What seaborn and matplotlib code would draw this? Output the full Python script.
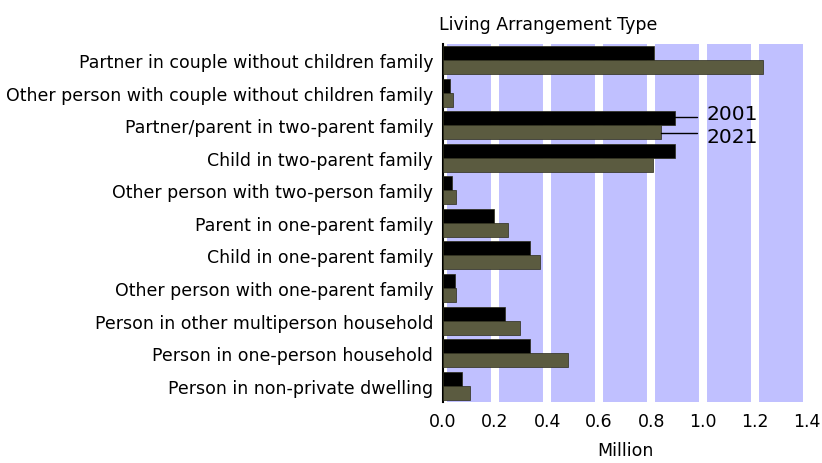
import matplotlib
matplotlib.use("Agg")
import matplotlib.pyplot as plt
import seaborn as sns
import pandas as pd

categories = [
    "Partner in couple without children family",
    "Other person with couple without children family",
    "Partner/parent in two-parent family",
    "Child in two-parent family",
    "Other person with two-person family",
    "Parent in one-parent family",
    "Child in one-parent family",
    "Other person with one-parent family",
    "Person in other multiperson household",
    "Person in one-person household",
    "Person in non-private dwelling",
]
values_2001 = [0.81, 0.027, 0.89, 0.89, 0.035, 0.196, 0.336, 0.044, 0.237, 0.336, 0.074]
values_2021 = [1.23, 0.040, 0.837, 0.806, 0.050, 0.250, 0.374, 0.051, 0.297, 0.482, 0.105]
years = ["2001", "2021"]
x_ticks = [0.0, 0.2, 0.4, 0.6, 0.8, 1.0, 1.2, 1.4]

df = pd.DataFrame({
    "Living Arrangement Type": categories * 2,
    "Million": values_2001 + values_2021,
    "Year": [years[0]] * len(categories) + [years[1]] * len(categories),
})

sns.set_style("white")
plt.rcParams["font.family"] = ["DejaVu Sans"]
plt.rcParams["text.color"] = "black"
plt.rcParams["axes.labelcolor"] = "black"
plt.rcParams["xtick.color"] = "black"
plt.rcParams["ytick.color"] = "black"

fig = plt.figure(figsize=(8.22, 4.64), dpi=100)
ax = fig.add_axes([0.539, 0.1315, 0.443, 0.772])
ax.set_facecolor("#c0c0ff")

sns.barplot(
    data=df, y="Living Arrangement Type", x="Million", hue="Year",
    palette={"2001": "#000000", "2021": "#5f5f3c"},
    width=0.86, orient="h", ax=ax, legend=False,
    edgecolor="#2a2a18", linewidth=0.5, zorder=3,
)

ax.set_xlim(0, 1.4)
ax.set_ylim(len(categories) - 0.5, -0.5)
ax.set_xticks(x_ticks)
ax.set_xticklabels([f"{t:.1f}" for t in x_ticks], fontsize=12.5)
ax.xaxis.grid(True, color="white", linewidth=5.8, zorder=1)
ax.set_axisbelow(True)
ax.tick_params(axis="x", length=0, pad=7)
ax.tick_params(axis="y", length=0, labelsize=12.5, pad=7)

for side in ["top", "right", "bottom"]:
    ax.spines[side].set_visible(False)
ax.spines["left"].set_color("black")
ax.spines["left"].set_linewidth(1.5)

ax.set_ylabel("")
ax.set_xlabel("Million", fontsize=12.5, labelpad=8)
ax.text(-0.01, 1.03, "Living Arrangement Type", transform=ax.transAxes,
        fontsize=12.5, ha="left", va="bottom")

# Direct labels for the two series on the Partner/parent row
row = categories.index("Partner/parent in two-parent family")
line_offsets = [-0.25, 0.24]
text_offsets = [-0.35, 0.36]
for year, vals, ly, ty in zip(years, [values_2001, values_2021],
                              line_offsets, text_offsets):
    ax.plot([vals[row], 0.977], [row + ly, row + ly], color="black",
            linewidth=1, zorder=4, clip_on=False)
    ax.text(1.012, row + ty, year, fontsize=14.5, ha="left", va="center",
            zorder=5)

fig.savefig("out.png", dpi=100)
